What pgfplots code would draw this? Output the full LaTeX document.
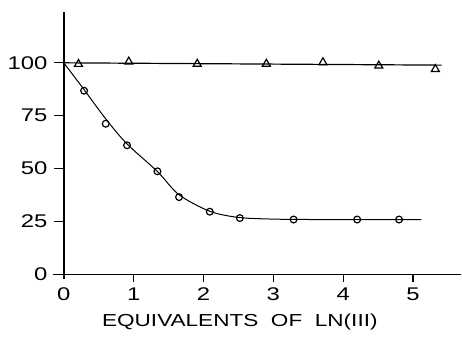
\documentclass[border=0pt]{standalone}
\usepackage{fontspec}
\setmainfont{Liberation Sans}[FakeStretch=1.3]
\usepackage{pgfplots}
\pgfplotsset{compat=1.18}
\begin{document}
\begin{tikzpicture}
\begin{axis}[
  scale only axis,
  width=199.1pt, height=131.4pt,
  xmin=0, xmax=5.69, ymin=0, ymax=124,
  axis lines=none,
  clip=false,
]
\path (axis cs:-0.914,-28.3) rectangle (axis cs:5.686,129.7);
\draw[line width=0.8pt] (axis cs:-0.157,0) -- (axis cs:5.69,0);
\draw[line width=0.8pt] (axis cs:0,-2.4) -- (axis cs:0,124);
\pgfplotsinvokeforeach{0,25,50,75,100}{\draw[line width=0.6pt] (axis cs:0,#1) -- ++(-5pt,0);
  \node[anchor=east, font=\fontsize{9.2}{10}\selectfont, xshift=-4.7pt] at (axis cs:0,#1) {#1};}
\pgfplotsinvokeforeach{1,2,3,4,5}{\draw[line width=0.6pt] (axis cs:#1,0) -- ++(0,-4pt);}
\pgfplotsinvokeforeach{0,1,2,3,4,5}{\node[anchor=north, font=\fontsize{9.2}{10}\selectfont, yshift=-3.2pt] at (axis cs:#1,0) {#1};}
\node[font=\fontsize{8.7}{10}\selectfont, anchor=center] at (axis cs:2.52,-22.5) {EQUIVALENTS\ \ OF\ \ LN(III)};
% triangle series line
\addplot[black, line width=0.6pt] coordinates {(0,100) (5.41,98.9)};
\addplot[only marks, mark=triangle, mark size=2.3pt, black, mark options={line width=0.6pt}] coordinates {
(0.21,99.4) (0.93,100.5) (1.91,99.5) (2.9,99.5) (3.71,100.2) (4.51,98.6) (5.32,97)};
% circle fitted curve
\addplot[black, line width=0.5pt, smooth, tension=0.5] coordinates {
(0,100) (0.29,87.3) (0.6,73.5) (0.9,61.8) (1.34,48.6) (1.65,37.6) (2.09,29.8) (2.5,26.9) (3,26.1) (3.6,25.9) (4.2,25.9) (5.12,25.8)};
\addplot[only marks, mark=o, mark size=1.7pt, black, mark options={line width=0.6pt}] coordinates {
(0.29,86.8) (0.6,71.2) (0.905,61) (1.34,48.7) (1.65,36.5) (2.09,29.6) (2.52,26.6) (3.29,25.9) (4.2,25.9) (4.8,25.9)};
\end{axis}
\end{tikzpicture}
\end{document}
